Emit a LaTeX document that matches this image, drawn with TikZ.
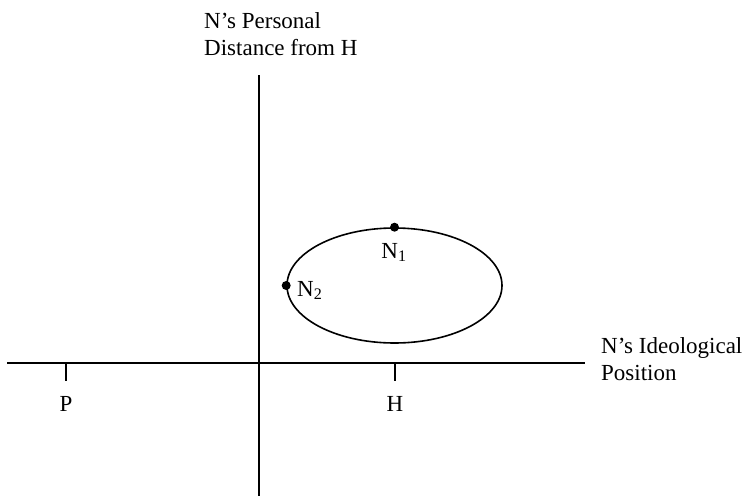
\documentclass[tikz,border=0pt]{standalone}
\usepackage{fontspec}
\setmainfont{Liberation Serif}
\usepackage{tikz}
\usetikzlibrary{shapes.geometric,positioning}

\begin{document}
\begin{tikzpicture}[x=1pt, y=-1pt,
    axis/.style={line width=1.5pt},
    dot/.style={circle, fill, inner sep=0pt, minimum size=9pt},
    lbl/.style={font=\fontsize{23}{27}\selectfont, inner sep=0pt},
    orbit/.style={ellipse, draw, line width=1.6pt, inner sep=0pt, minimum width=215pt, minimum height=115pt}
]
\useasboundingbox (0,0) rectangle (747,496);

% Axes
\coordinate (xleft) at (7,363);
\coordinate (xright) at (585,363);
\coordinate (ytop) at (259,75);
\coordinate (ybot) at (259,496);
\draw[axis] (xleft) -- (xright);
\draw[axis] (ytop) -- (ybot);
\node[lbl, align=left, anchor=base west] (ylab) at (204,55) {N's Personal\\Distance from H};
\node[lbl, align=left, anchor=base west] (xlab) at (601,380) {N's Ideological\\Position};

% Ticks
\coordinate (ptick) at (66,363);
\coordinate (pend) at (66,381);
\coordinate (htick) at (395,363);
\coordinate (hend) at (395,381);
\draw[axis] (ptick) -- (pend);
\draw[axis] (htick) -- (hend);
\node[lbl, anchor=base] (plab) at (66,411) {P};
\node[lbl, anchor=base] (hlab) at (395,411) {H};

% Ellipse and points
\node[orbit] (orb) at (394.5,285.5) {};
\node[dot] (n1) at (orb.north) {};
\node[dot] (n2) at (orb.west) {};
\node[lbl, anchor=base] (n1lab) at (394,258) {N\textsubscript{1}};
\node[lbl, anchor=base west] (n2lab) at (297,296) {N\textsubscript{2}};
\end{tikzpicture}
\end{document}
